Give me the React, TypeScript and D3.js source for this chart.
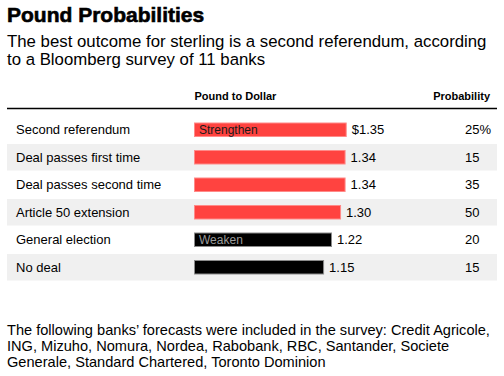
import React from "react";
import * as d3 from "d3";

const categories = [
  "Second referendum",
  "Deal passes first time",
  "Deal passes second time",
  "Article 50 extension",
  "General election",
  "No deal",
];
const poundToDollar = [1.35, 1.34, 1.34, 1.3, 1.22, 1.15];
const valueLabels = ["$1.35", "1.34", "1.34", "1.30", "1.22", "1.15"];
const probabilityLabels = ["25%", "15", "35", "50", "20", "15"];
const directions = ["up", "up", "up", "up", "down", "down"];
const barNotes = ["Strengthen", "", "", "", "Weaken", ""];

const FONT = "'Liberation Sans', Arial, Helvetica, sans-serif";

export default function App() {
  const W = 504;
  const H = 376;
  const x = d3.scaleLinear().domain([0, 1.35]).range([0, 152.7]);
  const y = d3.scaleBand<string>().domain(categories).range([116, 281]).padding(0);
  const barX = 194;
  const barH = 13.5;

  return (
    <svg
      width={W}
      height={H}
      style={{ position: "absolute", left: 0, top: 0, background: "#fff" }}
      fontFamily={FONT}
    >
      <text x={7} y={22} fontSize={21} fontWeight={700} fill="#000" stroke="#000" strokeWidth={0.6}>
        Pound Probabilities
      </text>
      <text x={7} y={46.5} fontSize={16.8} fill="#000">
        The best outcome for sterling is a second referendum, according
      </text>
      <text x={7} y={64.5} fontSize={16.8} fill="#000">
        to a Bloomberg survey of 11 banks
      </text>

      <text x={194.5} y={100} fontSize={11} fontWeight={700} fill="#000">
        Pound to Dollar
      </text>
      <text x={490} y={100} fontSize={11} fontWeight={700} fill="#000" textAnchor="end">
        Probability
      </text>
      <line x1={7} x2={497} y1={108.5} y2={108.5} stroke="#000" strokeWidth={1.5} />

      {categories.map((c, i) => {
        const top = y(c)!;
        const bw = y.bandwidth();
        const cy = top + bw / 2;
        const up = directions[i] === "up";
        const w = x(poundToDollar[i]);
        return (
          <g key={c}>
            {i % 2 === 1 && (
              <rect x={7} y={top + 0.5} width={490} height={bw - 1} fill="#f0f0f0" />
            )}
            <text x={16} y={cy} dy="0.35em" fontSize={13} fill="#000">
              {c}
            </text>
            <rect
              x={barX + 0.5}
              y={cy - barH / 2}
              width={w - 1}
              height={barH}
              fill={up ? "#ff4340" : "#000"}
              stroke={up ? "#ff8a88" : "#8a8a8a"}
              strokeWidth={1}
            />
            {barNotes[i] && (
              <text
                x={barX + 5}
                y={cy}
                dy="0.35em"
                fontSize={12}
                fill={up ? "#1a1a1a" : "#9a9a9a"}
              >
                {barNotes[i]}
              </text>
            )}
            <text x={barX + w + 5} y={cy} dy="0.35em" fontSize={13} fill="#000">
              {valueLabels[i]}
            </text>
            <text x={465} y={cy} dy="0.35em" fontSize={13} fill="#000">
              {probabilityLabels[i]}
            </text>
          </g>
        );
      })}

      <text x={7} y={335} fontSize={14.6} fill="#000">
        The following banks’ forecasts were included in the survey: Credit Agricole,
      </text>
      <text x={7} y={351} fontSize={14.6} fill="#000">
        ING, Mizuho, Nomura, Nordea, Rabobank, RBC, Santander, Societe
      </text>
      <text x={7} y={367} fontSize={14.6} fill="#000">
        Generale, Standard Chartered, Toronto Dominion
      </text>
    </svg>
  );
}
